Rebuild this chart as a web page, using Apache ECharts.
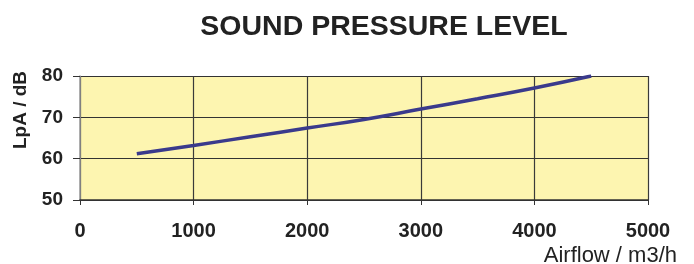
<!DOCTYPE html>
<html>
<head>
<meta charset="utf-8">
<script src="https://cdn.jsdelivr.net/npm/echarts@6/dist/echarts.min.js"></script>
<style>
  html, body { margin: 0; padding: 0; background: #fff; }
  #chart { width: 694px; height: 264px; }
</style>
</head>
<body>
<div id="chart"></div>
<script>
// airflow (m3/h) and sound pressure level (dB)
var airflow = [500, 1000, 1500, 2000, 2500, 3000, 3500, 4000, 4500];
var lpa = [61.2, 63.2, 65.3, 67.4, 69.5, 72.0, 74.5, 77.1, 80.0];

var titleText = 'SOUND PRESSURE LEVEL';
var yName = 'LpA / dB';
var xName = 'Airflow / m3/h';

var font = '"Liberation Sans", Arial, sans-serif';

var chart = echarts.init(document.getElementById('chart'));

var points = [];
for (var i = 0; i < airflow.length; i++) {
    points.push([airflow[i], lpa[i]]);
}

var option = {
    animation: false,
    title: {
        text: titleText,
        left: 379,
        top: 8,
        textAlign: 'center',
        textStyle: { fontFamily: font, fontSize: 28.5, fontWeight: 'bold', color: '#222' }
    },
    grid: {
        left: 80, right: 46, top: 76, bottom: 64,
        show: true, backgroundColor: '#fdf5b0', borderWidth: 0
    },
    xAxis: {
        type: 'value',
        min: 0, max: 5000, interval: 1000,
        axisLine: { show: true, lineStyle: { color: '#333', width: 1.5 } },
        axisTick: { show: true, length: 5, lineStyle: { color: '#333' } },
        splitLine: { show: true, lineStyle: { color: '#3a3a3a', width: 1.2 } },
        axisLabel: {
            margin: 21, fontFamily: font, fontSize: 20, fontWeight: 'bold', color: '#222',
            formatter: function (v) { return String(v); }
        }
    },
    yAxis: {
        type: 'value',
        min: 50, max: 80, interval: 10,
        axisLine: { show: true, lineStyle: { color: '#999', width: 1.5 } },
        axisTick: { show: true, length: 7, lineStyle: { color: '#333' } },
        splitLine: { show: true, lineStyle: { color: '#333', width: 1.2 } },
        axisLabel: { margin: 17, fontFamily: font, fontSize: 19, fontWeight: 'bold', color: '#222' }
    },
    graphic: [
        {
            type: 'text', x: 21, y: 110, rotation: Math.PI / 2,
            style: { text: yName, font: 'bold 19px ' + font, fill: '#222', align: 'center', verticalAlign: 'middle' }
        },
        {
            type: 'text', x: 677, y: 256,
            style: { text: xName, font: '22px ' + font, fill: '#222', align: 'right', verticalAlign: 'middle' }
        }
    ],
    series: [{
        type: 'line',
        data: points,
        smooth: true,
        symbol: 'none',
        lineStyle: { color: '#3a3a8c', width: 3.5 }
    }]
};
chart.setOption(option);
</script>
</body>
</html>
